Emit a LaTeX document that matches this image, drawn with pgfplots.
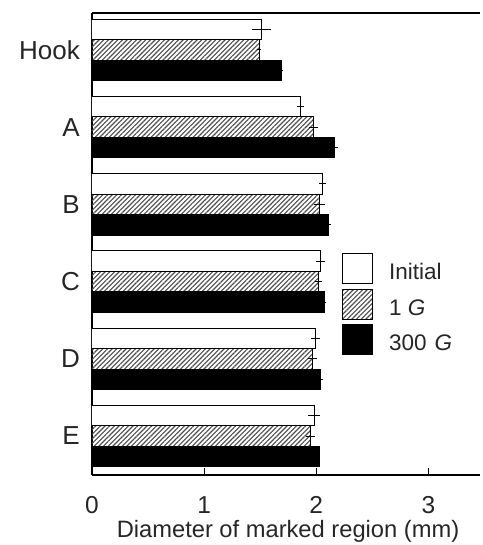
\documentclass[border=0pt]{standalone}
\usepackage{fontspec}
\setmainfont{Liberation Sans}
\usepackage{pgfplots}
\pgfplotsset{compat=1.18}
\usetikzlibrary{patterns.meta}
\definecolor{txt}{gray}{0.15}
\pgfplotstableread{
y x e
-0.265 1.515 0.085
0.735 1.86 0.03
1.735 2.055 0.03
2.735 2.04 0.04
3.735 1.99 0.04
4.735 1.98 0.05
}\initial
\pgfplotstableread{
y x e
0 1.49 0.02
1 1.975 0.04
2 2.03 0.05
3 2.02 0.03
4 1.965 0.04
5 1.95 0.04
}\oneG
\pgfplotstableread{
y x e
0.265 1.69 0.01
1.265 2.16 0.03
2.265 2.11 0.02
3.265 2.07 0.02
4.265 2.04 0.02
5.265 2.025 0.01
}\threeG
\begin{document}
\begin{tikzpicture}
\path[use as bounding box] (-92pt,-70pt) rectangle (390pt,475pt);
\begin{axis}[
  scale only axis, width=388pt, height=462pt,
  at={(0,0)}, anchor=south west,
  xmin=0, xmax=3.46, ymin=-0.479, ymax=5.505,
  y dir=reverse,
  axis x line=box, axis y line=left,
  axis line style={-, line width=1.3pt, black},
  xtick={0,1,2,3}, xtick pos=bottom, tick align=inside,
  x tick style={line width=1pt, black}, major tick length=7pt,
  ytick={0,1,2,3,4,5},
  yticklabels={Hook\hspace{7pt},A,B,C,D,E},
  y tick style={draw=none},
  /pgf/number format/assume math mode=true,
  xticklabel style={font=\fontsize{24.5}{24}\selectfont, text=txt, anchor=base, yshift=-38pt},
  yticklabel style={font=\fontsize{26}{26}\selectfont, text=txt, anchor=east, inner sep=0pt, xshift=-12pt},
  xlabel={Diameter of marked region (mm)},
  xlabel style={font=\fontsize{23.7}{24}\selectfont, text=txt, at={(axis description cs:0.5,0)}, anchor=base, yshift=-62pt, xshift=2pt},
  legend style={at={(0.6443,0.4805)}, anchor=north west, draw=none, fill=none,
    inner sep=0pt, row sep=4.5pt, column sep=16pt,
    font=\fontsize{22.5}{22}\selectfont, text=txt,
    nodes={inner sep=0pt, anchor=base west}},
  legend cell align=left,
]
\addplot[xbar, bar width=0.265, bar shift=0pt, draw=black, line width=1pt, fill=white,
  legend image code/.code={\draw[draw=black, line width=1pt, fill=white] (0pt,-4pt) rectangle (30pt,26pt);},
  error bars/.cd, x dir=both, x explicit, error mark=none,
  error bar style={line width=1pt, black}]
  table[x=x, y=y, x error=e] {\initial};
\addlegendentry{Initial}
\addplot[xbar, bar width=0.265, bar shift=0pt, draw=black, line width=1pt,
  pattern={Lines[angle=45, distance=3.3pt, line width=1.1pt]}, pattern color=black!70,
  legend image code/.code={\draw[draw=black, line width=1pt, pattern={Lines[angle=45, distance=3.3pt, line width=1.1pt]}, pattern color=black!70] (0pt,-4pt) rectangle (30pt,26pt);},
  error bars/.cd, x dir=both, x explicit, error mark=none,
  error bar style={line width=1pt, black}]
  table[x=x, y=y, x error=e] {\oneG};
\addlegendentry{1 \textit{G}}
\addplot[xbar, bar width=0.265, bar shift=0pt, draw=black, line width=1pt, fill=black,
  legend image code/.code={\draw[draw=black, line width=1pt, fill=black] (0pt,-4pt) rectangle (30pt,26pt);},
  error bars/.cd, x dir=both, x explicit, error mark=none,
  error bar style={line width=1pt, black}]
  table[x=x, y=y, x error=e] {\threeG};
\addlegendentry{300\hspace{8pt}\textit{G}}
\end{axis}
\end{tikzpicture}
\end{document}
